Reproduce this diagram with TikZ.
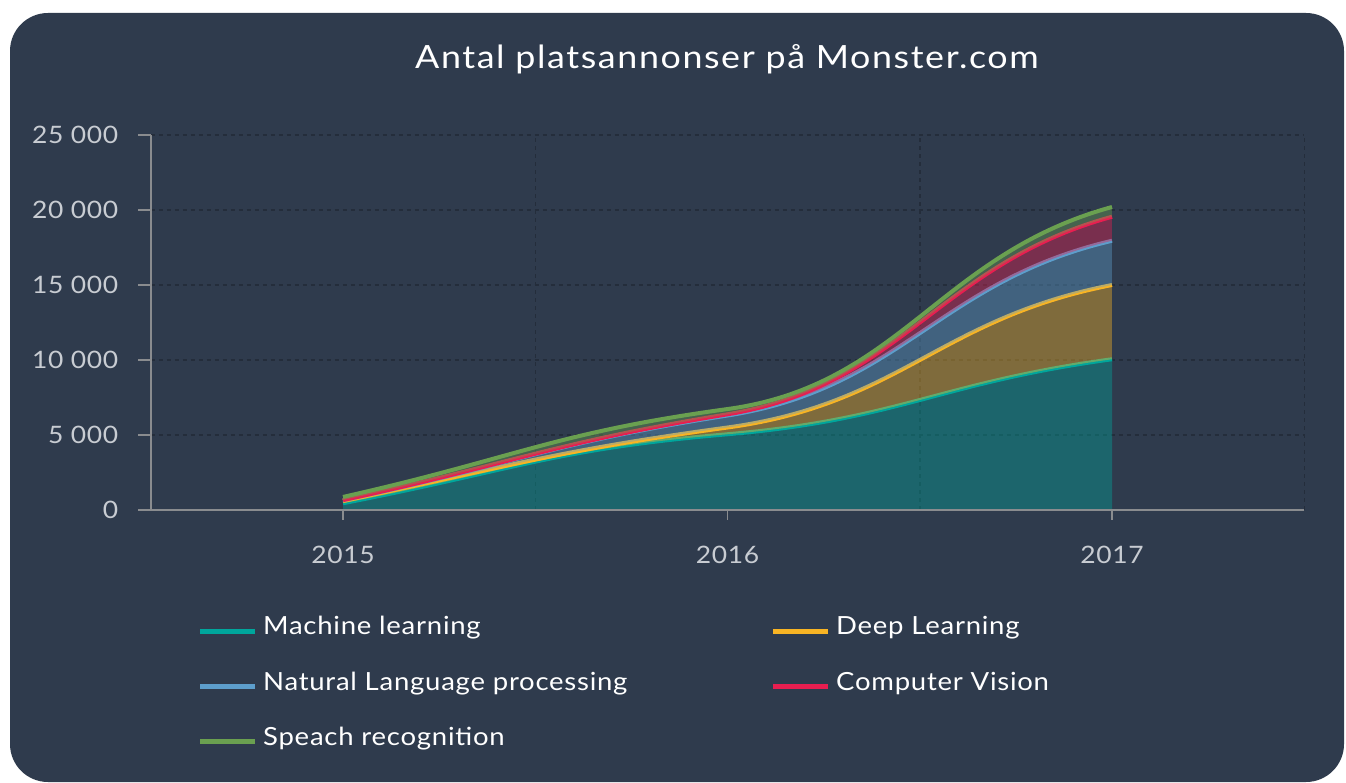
\documentclass[tikz,border=0pt]{standalone}
\usepackage{fontspec}
\setmainfont{Lato}[FakeStretch=1.1, LetterSpace=3]
\newfontfamily\titlefont{Lato}[FakeStretch=1.12, LetterSpace=5]
\usetikzlibrary{positioning}
\definecolor{panel}{RGB}{47,59,77}
\definecolor{gridline}{RGB}{36,45,59}
\definecolor{axisgray}{RGB}{138,140,143}
\definecolor{ticktext}{RGB}{200,204,210}
\definecolor{mlteal}{RGB}{0,166,156}
\definecolor{dlyellow}{RGB}{248,180,36}
\definecolor{nlpblue}{RGB}{93,158,204}
\definecolor{cvred}{RGB}{232,30,80}
\definecolor{srgreen}{RGB}{106,160,80}
\tikzstyle{gridrule} = [gridline, line width=1.5pt, dash pattern=on 4pt off 4pt]
\tikzstyle{axisrule} = [axisgray, line width=1.5pt]
\tikzstyle{series} = [line width=4pt, line join=round]
\tikzstyle{band} = [fill opacity=0.4]
\tikzstyle{ticklabel} = [font=\fontsize{24}{24}\selectfont, text=ticktext]
\tikzstyle{legendtext} = [font=\fontsize{25}{25}\selectfont, text=white, inner sep=0pt, anchor=base west]
\tikzstyle{legendline} = [line width=5pt]
\def\mlpath{(0,0.45) .. controls (0.45,2.7) and (0.55,4.06) .. (1,5.05) .. controls (1.45,6.04) and (1.55,8.475) .. (2,10.05)}
\def\dlpath{(0,0.6) .. controls (0.45,3.0) and (0.55,3.925) .. (1,5.5) .. controls (1.45,7.075) and (1.55,12.75) .. (2,15.0)}
\def\nlppath{(0,0.65) .. controls (0.45,3.1) and (0.55,4.5) .. (1,6.3) .. controls (1.45,8.1) and (1.55,15.25) .. (2,17.95)}
\def\cvpath{(0,0.66) .. controls (0.45,3.16) and (0.55,4.49) .. (1,6.38) .. controls (1.45,8.27) and (1.55,16.4) .. (2,19.55)}
\def\srpath{(0,0.87) .. controls (0.45,3.47) and (0.55,5.155) .. (1,6.73) .. controls (1.45,8.305) and (1.55,17.05) .. (2,20.2)}
\begin{document}
\begin{tikzpicture}[x=1pt,y=1pt]
  \useasboundingbox (0,0) rectangle (1346,782);
  \fill[white] (0,0) rectangle (1346,782);
  \fill[panel, rounded corners=38pt] (10,0) rectangle (1344,769);

  \node [font=\titlefont\fontsize{32}{32}\selectfont, text=white] (title) at (727,723) {Antal platsannonser på Monster.com};

  \begin{scope}[shift={(343,272)}, x=384.5pt, y=15pt]
    \foreach \v in {5,10,...,25}
      \draw [gridrule] (-0.5,\v) -- (2.5,\v);
    \foreach \u in {0.5,1.5,2.5}
      \draw [gridrule] (\u,0) -- (\u,25);

    \fill [mlteal, band] \mlpath -- (2,0) -- (0,0) -- cycle;
    \draw [mlteal, series] \mlpath;

    \begin{scope}
      \clip \mlpath -- (2,26) -- (0,26) -- cycle;
      \fill [dlyellow, band] \dlpath -- (2,0) -- (0,0) -- cycle;
    \end{scope}
    \draw [dlyellow, series] \dlpath;

    \begin{scope}
      \clip \dlpath -- (2,26) -- (0,26) -- cycle;
      \fill [nlpblue, band] \nlppath -- (2,0) -- (0,0) -- cycle;
    \end{scope}
    \draw [nlpblue, series] \nlppath;

    \begin{scope}
      \clip \nlppath -- (2,26) -- (0,26) -- cycle;
      \fill [cvred, band] \cvpath -- (2,0) -- (0,0) -- cycle;
    \end{scope}
    \draw [cvred, series] \cvpath;

    \begin{scope}
      \clip \cvpath -- (2,26) -- (0,26) -- cycle;
      \fill [srgreen, band] \srpath -- (2,0) -- (0,0) -- cycle;
    \end{scope}
    \draw [srgreen, series] \srpath;

    \draw [axisrule] (-0.5,25) -- (-0.5,0) -- (2.5,0);
    \foreach \v/\t in {0/0, 5/5 000, 10/10 000, 15/15 000, 20/20 000, 25/25 000} {
      \draw [axisrule] (-0.5,\v) -- ++(-13pt,0);
      \node [ticklabel, anchor=east, xshift=-29pt] (ylab\v) at (-0.5,\v) {\t};
    }
    \foreach \yr [count=\i from 0] in {2015,2016,2017} {
      \draw [axisrule] (\i,0) -- ++(0,-10pt);
      \node [ticklabel] (year\yr) at (\i,-3) {\yr};
    }
  \end{scope}

  \node [legendtext] (ml) at (263,147) {Machine learning};
  \node [legendtext] (dl) at (836,147) {Deep Learning};
  \node [legendtext] (nlp) at (263,92) {Natural Language processing};
  \node [legendtext] (cv) at (836,92) {Computer Vision};
  \node [legendtext] (sr) at (263,37) {Speach recognition};

  \draw [legendline, mlteal] ([xshift=-8pt,yshift=4pt]ml.base west) -- ++(-55pt,0);
  \draw [legendline, dlyellow] ([xshift=-8pt,yshift=4pt]dl.base west) -- ++(-55pt,0);
  \draw [legendline, nlpblue] ([xshift=-8pt,yshift=4pt]nlp.base west) -- ++(-55pt,0);
  \draw [legendline, cvred] ([xshift=-8pt,yshift=4pt]cv.base west) -- ++(-55pt,0);
  \draw [legendline, srgreen] ([xshift=-8pt,yshift=4pt]sr.base west) -- ++(-55pt,0);
\end{tikzpicture}
\end{document}
